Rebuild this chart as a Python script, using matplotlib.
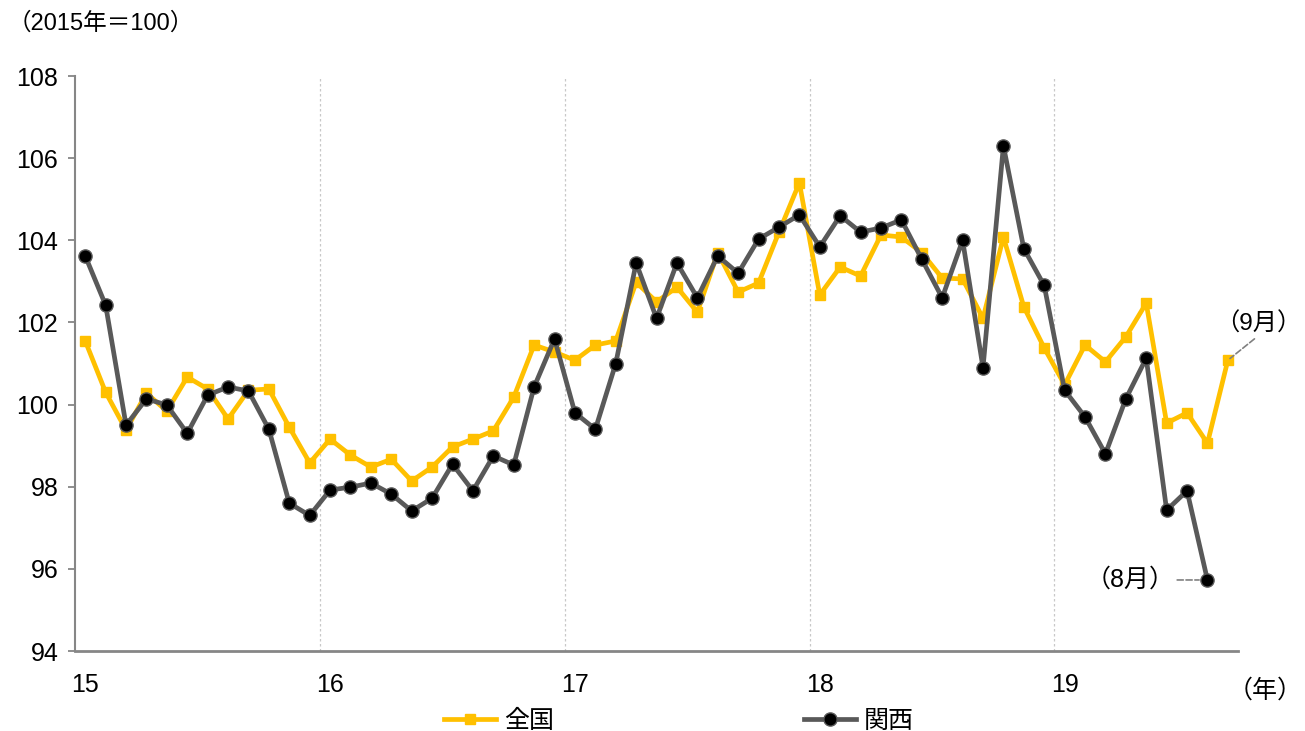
import numpy as np
import matplotlib
matplotlib.use('Agg')
import matplotlib.pyplot as plt

plt.rcParams['font.family'] = ['Liberation Sans', 'Noto Sans CJK JP', 'DejaVu Sans']

# monthly index, Jan 2015 onwards (2015 = 100)
zenkoku = [101.55, 100.3, 99.38, 100.28, 99.84, 100.67, 100.38, 99.65, 100.35, 100.38, 99.45, 98.58,
           99.16, 98.77, 98.48, 98.67, 98.14, 98.48, 98.97, 99.16, 99.36, 100.18, 101.45, 101.28,
           101.08, 101.45, 101.55, 102.98, 102.5, 102.86, 102.25, 103.7, 102.74, 102.96, 104.2, 105.4,
           102.67, 103.35, 103.13, 104.13, 104.08, 103.7, 103.08, 103.06, 102.1, 104.08, 102.38, 101.38,
           100.48, 101.45, 101.04, 101.65, 102.47, 99.55, 99.8, 99.06, 101.08]
kansai = [103.62, 102.42, 99.5, 100.14, 99.99, 99.3, 100.23, 100.43, 100.33, 99.4, 97.6, 97.3,
          97.92, 97.99, 98.09, 97.82, 97.41, 97.72, 98.55, 97.9, 98.75, 98.53, 100.43, 101.6,
          99.8, 99.4, 101.0, 103.45, 102.1, 103.45, 102.6, 103.62, 103.2, 104.03, 104.32, 104.62,
          103.84, 104.6, 104.2, 104.3, 104.5, 103.54, 102.6, 104.0, 100.9, 106.3, 103.8, 102.9,
          100.35, 99.7, 98.8, 100.14, 101.13, 97.43, 97.9, 95.73]
year_labels = ['15', '16', '17', '18', '19']
start_year = 15

x_z = start_year + (np.arange(len(zenkoku)) + 0.5) / 12
x_k = start_year + (np.arange(len(kansai)) + 0.5) / 12

fig = plt.figure(figsize=(13.05, 7.31), dpi=100)
ax = fig.add_axes([0.0575, 0.1094, 0.8912, 0.7866])

ax.plot(x_z, zenkoku, color='#FFC000', lw=3.4, marker='s', ms=6.5,
        mfc='#FFC000', mec='#FFC000', label='全国', zorder=3)
ax.plot(x_k, kansai, color='#595959', lw=3.4, marker='o', ms=9.5,
        mfc='black', mec='#595959', mew=1, label='関西', zorder=4)

ax.set_ylim(94, 108)
ax.set_yticks(np.arange(94, 109, 2))
ax.set_xlim(15, 19.75)

# year gridlines at boundaries, labels centred on January
ax.set_xticks(np.arange(16, 20), minor=True)
ax.set_xticks(np.arange(15, 20) + 0.5 / 12)
ax.set_xticklabels(year_labels)
ax.grid(True, which='minor', axis='x', color='#C8C8C8', lw=0.9, ls=(0, (2, 2)))
ax.tick_params(axis='x', which='both', length=0, labelsize=18, pad=16)
ax.tick_params(axis='y', length=5, width=1.3, color='#868686', labelsize=18, pad=7)

for s in ['top', 'right']:
    ax.spines[s].set_visible(False)
ax.spines['left'].set_color('#868686')
ax.spines['left'].set_linewidth(1.5)
ax.spines['bottom'].set_color('#868686')
ax.spines['bottom'].set_linewidth(2)

# callouts for latest months
ax.annotate('（9月）', xy=(x_z[-1], zenkoku[-1]), xytext=(19.655, 101.95),
            fontsize=17.5, ha='left', va='center', annotation_clip=False,
            arrowprops=dict(arrowstyle='-', color='#808080', ls='--', lw=1.2,
                            shrinkA=0, shrinkB=2, relpos=(0.5, 0.0)))
ax.annotate('（8月）', xy=(x_k[-1], kansai[-1]), xytext=(19.49, kansai[-1]),
            fontsize=18, ha='right', va='center',
            arrowprops=dict(arrowstyle='-', color='#808080', ls='--', lw=1.2,
                            shrinkA=0, shrinkB=6))

fig.text(0.006, 0.968, '（2015年＝100）', fontsize=17, ha='left', va='center')
fig.text(0.998, 0.055, '（年）', fontsize=18, ha='right', va='center')

leg = fig.legend(loc='center', bbox_to_anchor=(0.52, 0.014), ncol=2, frameon=False,
                 fontsize=18, columnspacing=10, handlelength=2.1, handletextpad=0.3)

fig.savefig('out.png', dpi=100)
